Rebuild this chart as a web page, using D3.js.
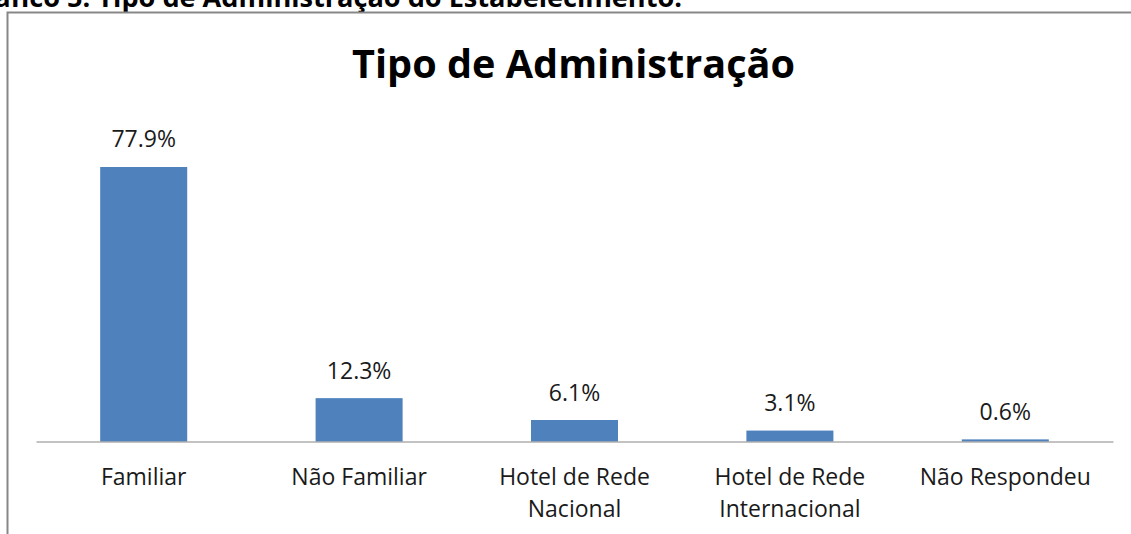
<!DOCTYPE html>
<html>
<head>
<meta charset="utf-8">
<script src="https://cdn.jsdelivr.net/npm/d3@7/dist/d3.min.js"></script>
<style>
  html, body { margin: 0; padding: 0; background: #fff; }
  svg { display: block; }
</style>
</head>
<body>
<svg id="chart" width="1131" height="534"></svg>
<script>
const categories = ["Familiar", "Não Familiar", "Hotel de Rede Nacional", "Hotel de Rede Internacional", "Não Respondeu"];
const categoryLines = [["Familiar"], ["Não Familiar"], ["Hotel de Rede", "Nacional"], ["Hotel de Rede", "Internacional"], ["Não Respondeu"]];
const values = [77.9, 12.3, 6.1, 3.1, 0.6];
const valueLabels = ["77.9%", "12.3%", "6.1%", "3.1%", "0.6%"];
const chartTitle = "Tipo de Administração";
const pageCaption = "Gráfico 5: Tipo de Administração do Estabelecimento.";

const svg = d3.select("#chart");
const font = "'Open Sans', 'Noto Sans', sans-serif";

// caption above the chart (cut by the top and left edges, as in the source)
const cap = svg.append("text")
  .attr("x", 682).attr("y", 6.5)
  .attr("text-anchor", "end")
  .attr("font-family", font).attr("font-weight", "bold")
  .attr("font-size", 24).attr("fill", "#000")
  .text(pageCaption);
const cw = cap.node().getComputedTextLength();
cap.attr("font-size", 24 * 720 / cw);

// chart border
svg.append("rect")
  .attr("x", 7.5).attr("y", 12.5)
  .attr("width", 1140).attr("height", 540)
  .attr("fill", "none").attr("stroke", "#878787").attr("stroke-width", 2);

// title
const title = svg.append("text")
  .attr("x", 573.5).attr("y", 78)
  .attr("text-anchor", "middle")
  .attr("font-family", font).attr("font-weight", "bold")
  .attr("font-size", 44).attr("fill", "#000")
  .text(chartTitle);
const tw = title.node().getComputedTextLength();
title.attr("font-size", 44 * 443 / tw);

const x = d3.scaleBand()
  .domain(categories)
  .range([36, 1113])
  .paddingInner(0.596)
  .paddingOuter(0.298);

const y = d3.scaleLinear()
  .domain([0, 80])
  .range([441.5, 159.6]);

// bars
svg.append("g").selectAll("rect")
  .data(values)
  .join("rect")
  .attr("x", (d, i) => x(categories[i]))
  .attr("y", d => y(d))
  .attr("width", x.bandwidth())
  .attr("height", d => y(0) - y(d))
  .attr("fill", "#4F81BD");

// axis baseline
const xAxis = d3.axisBottom(x).tickSize(0).tickFormat("");
const ax = svg.append("g").attr("transform", `translate(0,${y(0)})`).call(xAxis);
ax.select(".domain").attr("stroke", "#868686").attr("stroke-width", 1);

// data labels
svg.append("g").selectAll("text")
  .data(values)
  .join("text")
  .attr("x", (d, i) => x(categories[i]) + x.bandwidth() / 2)
  .attr("y", d => y(d) - 19.5)
  .attr("text-anchor", "middle")
  .attr("font-family", font).attr("font-size", 23).attr("fill", "#1a1a1a")
  .text((d, i) => valueLabels[i]);

// category labels
const cl = svg.append("g").selectAll("text")
  .data(categories)
  .join("text")
  .attr("x", d => x(d) + x.bandwidth() / 2)
  .attr("y", 485)
  .attr("text-anchor", "middle")
  .attr("font-family", font).attr("font-size", 23).attr("fill", "#1a1a1a");
cl.each(function(d, i) {
  const t = d3.select(this);
  categoryLines[i].forEach((line, j) => {
    t.append("tspan")
      .attr("x", x(d) + x.bandwidth() / 2)
      .attr("dy", j === 0 ? 0 : 32)
      .text(line);
  });
});
</script>
</body>
</html>
